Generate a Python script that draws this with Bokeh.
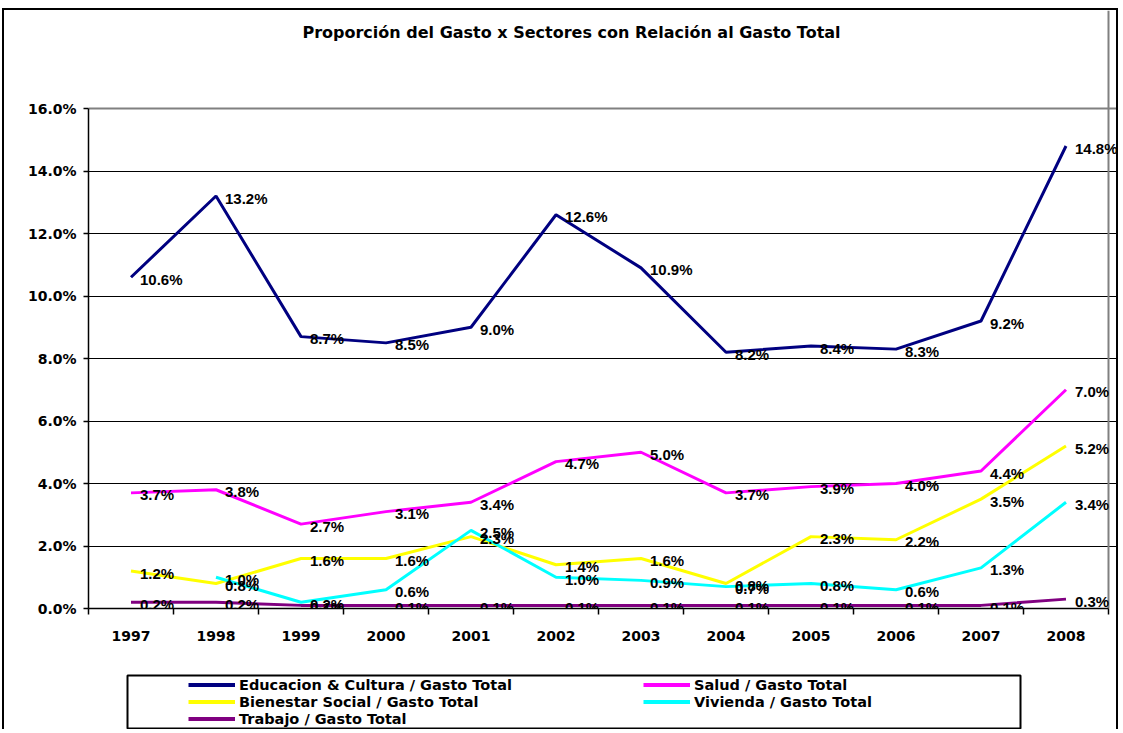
import math
from bokeh.plotting import figure
from bokeh.models import (Range1d, FixedTicker, PrintfTickFormatter, ColumnDataSource,
                          LabelSet, Legend, LegendItem, Grid, Label)
from bokeh.core.properties import value
from bokeh.embed import file_html
from bokeh.resources import INLINE

title = "Proporción del Gasto x Sectores con Relación al Gasto Total"
years = [1997, 1998, 1999, 2000, 2001, 2002, 2003, 2004, 2005, 2006, 2007, 2008]
educ = [10.6, 13.2, 8.7, 8.5, 9.0, 12.6, 10.9, 8.2, 8.4, 8.3, 9.2, 14.8]
salud = [3.7, 3.8, 2.7, 3.1, 3.4, 4.7, 5.0, 3.7, 3.9, 4.0, 4.4, 7.0]
bienestar = [1.2, 0.8, 1.6, 1.6, 2.3, 1.4, 1.6, 0.8, 2.3, 2.2, 3.5, 5.2]
vivienda = [float("nan"), 1.0, 0.2, 0.6, 2.5, 1.0, 0.9, 0.7, 0.8, 0.6, 1.3, 3.4]
trabajo = [0.2, 0.2, 0.1, 0.1, 0.1, 0.1, 0.1, 0.1, 0.1, 0.1, 0.1, 0.3]
y_ticks = [0, 2, 4, 6, 8, 10, 12, 14, 16]

series = [
    ("Educacion & Cultura / Gasto Total", educ, "#000080"),
    ("Salud / Gasto Total", salud, "#FF00FF"),
    ("Bienestar Social / Gasto Total", bienestar, "#FFFF00"),
    ("Vivienda / Gasto Total", vivienda, "#00FFFF"),
    ("Trabajo / Gasto Total", trabajo, "#800080"),
]

FONT = "DejaVu Sans"
LFONT = "Liberation Sans"
x_lo = years[0] - 0.5
x_hi = years[-1] + 0.5
PX_X = 85.0      # pixels per category
PX_Y = 31.25     # pixels per percentage point

frame_css = "2px solid black"

p = figure(width=1116, height=648,
           x_range=Range1d(x_lo, x_hi + 12 / PX_X),
           y_range=Range1d(y_ticks[0], y_ticks[-1] + 98 / PX_Y), output_backend="svg",
           toolbar_location=None, min_border_left=84, min_border_right=0,
           min_border_top=0, min_border_bottom=50,
           styles={"margin-left": "2px", "margin-top": "8px",
                   "border-top": frame_css, "border-left": frame_css,
                   "border-right": frame_css})
p.background_fill_color = "white"
p.border_fill_color = "white"
p.outline_line_color = None

# title
p.add_layout(Label(x=565, y=20, x_units="canvas", y_units="canvas", text=title,
                   text_align="center", text_baseline="middle",
                   text_font=FONT, text_font_style="bold", text_font_size="16px",
                   text_color="black"))

# axes
xa = p.xaxis[0]
xa.ticker = FixedTicker(ticks=years, minor_ticks=[y - 0.5 for y in years] + [x_hi])
xa.bounds = (x_lo, x_hi)
xa.major_tick_line_color = None
xa.major_tick_out = 0
xa.major_tick_in = 0
xa.minor_tick_line_color = "black"
xa.minor_tick_out = 6
xa.minor_tick_in = 0
xa.minor_tick_line_width = 1.5
xa.axis_line_color = "black"
xa.axis_line_width = 1.5
xa.major_label_standoff = 16
xa.major_label_text_font = FONT
xa.major_label_text_font_style = "bold"
xa.major_label_text_font_size = "14px"
xa.major_label_text_color = "black"

ya = p.yaxis[0]
ya.ticker = FixedTicker(ticks=y_ticks)
ya.bounds = (y_ticks[0], y_ticks[-1])
ya.formatter = PrintfTickFormatter(format="%.1f%%")
ya.major_tick_out = 5
ya.major_tick_in = 0
ya.major_tick_line_color = "black"
ya.major_tick_line_width = 1.5
ya.minor_tick_line_color = None
ya.axis_line_color = "black"
ya.axis_line_width = 1.5
ya.major_label_standoff = 7
ya.major_label_text_font = FONT
ya.major_label_text_font_style = "bold"
ya.major_label_text_font_size = "14px"
ya.major_label_text_color = "black"

p.xgrid.grid_line_color = None
p.ygrid.ticker = FixedTicker(ticks=y_ticks[1:-1])
p.ygrid.grid_line_color = "black"
p.ygrid.grid_line_width = 1
p.ygrid.bounds = (x_lo, x_hi)
# plot-area border (grey, top and right)
p.add_layout(Grid(dimension=1, ticker=FixedTicker(ticks=[y_ticks[-1]]), bounds=(x_lo, x_hi),
                  grid_line_color="#808080", grid_line_width=2))
p.add_layout(Grid(dimension=0, ticker=FixedTicker(ticks=[x_hi]), bounds=(y_ticks[0], y_ticks[-1]),
                  grid_line_color="#808080", grid_line_width=2))

# lines and labels
for name, vals, color in series:
    p.line(x=years, y=vals, line_color=color, line_width=3)
for name, vals, color in series:
    xs = [yr for yr, v in zip(years, vals) if not math.isnan(v)]
    ys = [v for v in vals if not math.isnan(v)]
    src = ColumnDataSource(dict(x=xs, y=ys, text=[f"{v:.1f}%" for v in ys]))
    lab = LabelSet(x="x", y="y", text="text", source=src, x_offset=9, y_offset=-2,
                   text_baseline="middle", text_align="left",
                   text_font=value(LFONT), text_font_style="bold",
                   text_font_size="15px", text_color="black")
    p.add_layout(lab)

# legend (separate small figure whose frame is the legend box)
lf = figure(width=1116, height=73, x_range=Range1d(0, 1), y_range=Range1d(0, 1),
            output_backend="svg", toolbar_location=None,
            x_axis_location=None, y_axis_location=None,
            min_border_left=123, min_border_right=100, min_border_top=19, min_border_bottom=1,
            styles={"margin-left": "2px", "border-left": frame_css,
                    "border-right": frame_css})
lf.grid.visible = False
lf.outline_line_color = "black"
lf.outline_line_width = 2
lf.background_fill_color = "white"
lf.border_fill_color = "white"
items = []
for name, vals, color in series:
    dr = lf.line(x=[float("nan")], y=[float("nan")], line_color=color, line_width=4)
    items.append(LegendItem(label=name, renderers=[dr]))
leg = Legend(items=items, location=(61, 1), orientation="horizontal", ncols=2,
             border_line_color=None, background_fill_alpha=0, padding=0, spacing=0,
             glyph_width=47, glyph_height=17, label_height=17, label_width=404,
             label_standoff=4, label_text_font=FONT, label_text_font_style="bold",
             label_text_font_size="14.5px", label_text_color="black", margin=0)
lf.add_layout(leg)

open("out.html", "w").write(file_html([p, lf], INLINE))
